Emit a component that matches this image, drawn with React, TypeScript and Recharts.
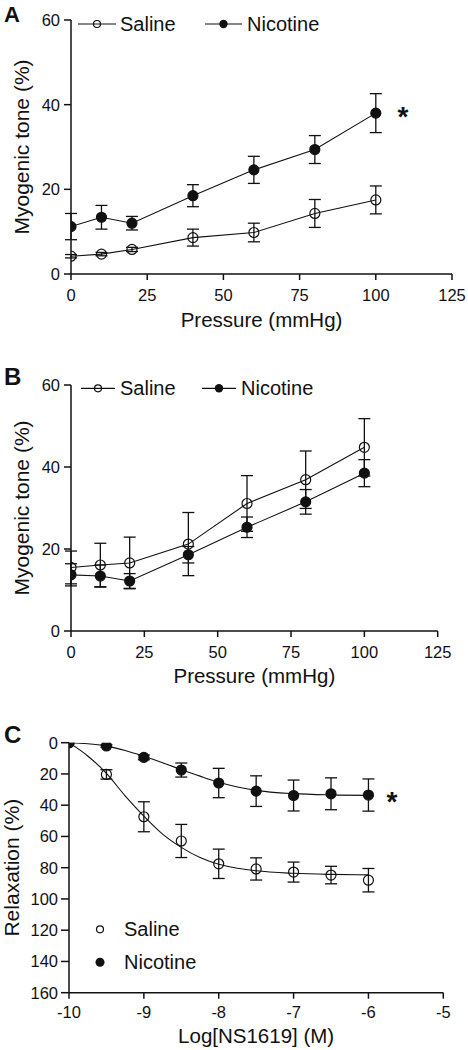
import React from 'react';
import { LineChart, ComposedChart, Line, XAxis, YAxis, ErrorBar } from 'recharts';

// ---------- Panel A & B: pressure series ----------
const pressure = [0, 10, 20, 40, 60, 80, 100];
const pressureTicks = [0, 25, 50, 75, 100, 125];
const toneTicks = [0, 20, 40, 60];

const aSaline = [4.2, 4.7, 5.8, 8.6, 9.8, 14.3, 17.5];
const aSalineErr = [0.4, 0.4, 0.5, 2.0, 2.2, 3.3, 3.3];
const aNicotine = [11.2, 13.4, 12.0, 18.5, 24.6, 29.4, 38.0];
const aNicotineErr = [3.1, 2.8, 1.6, 2.6, 3.2, 3.3, 4.6];

const bSaline = [15.5, 16.1, 16.6, 21.2, 31.1, 36.9, 44.8];
const bSalineErr = [4.0, 5.3, 6.3, 7.7, 6.8, 7.0, 7.0];
const bNicotine = [13.7, 13.4, 12.2, 18.6, 25.3, 31.5, 38.5];
const bNicotineErr = [2.7, 2.7, 1.8, 2.0, 2.5, 3.0, 3.3];

// ---------- Panel C: NS1619 concentration-response ----------
const concX = [-10, -9.5, -9, -8.5, -8, -7.5, -7, -6.5, -6];
const cSaline = [0, 20.3, 47.4, 62.9, 77.5, 80.8, 82.8, 84.7, 88.0];
const cSalineErr = [0, 3.0, 9.6, 10.6, 9.4, 7.1, 6.4, 5.6, 7.5];
const cNicotine = [0, 2.1, 9.4, 17.5, 25.8, 31.0, 33.8, 32.7, 33.5];
const cNicotineErr = [0, 0.8, 1.5, 4.5, 9.4, 9.8, 9.9, 10.2, 10.3];

// fitted curves
const curveX = [-10, -9.75, -9.5, -9.25, -9, -8.75, -8.5, -8.25, -8, -7.75, -7.5, -7, -6.5, -6];
const salineFit = [0, 8.5, 19.6, 34, 47, 58.5, 67, 73.5, 77.8, 80.3, 82, 83.6, 84.3, 84.6];
const nicotineFit = [0, 0.7, 2.2, 5, 8.7, 12.8, 17.2, 21.4, 25.3, 28.3, 30.5, 32.6, 33.4, 33.7];
const concTicks = [-10, -9, -8, -7, -6, -5];
const relaxTicks = [0, 20, 40, 60, 80, 100, 120, 140, 160];

const FONT = '"Liberation Sans", Arial, Helvetica, sans-serif';
const INK = '#111';

const rowsA = pressure.map((p, i) => ({ p, s: aSaline[i], se: aSalineErr[i], n: aNicotine[i], ne: aNicotineErr[i] }));
const rowsB = pressure.map((p, i) => ({ p, s: bSaline[i], se: bSalineErr[i], n: bNicotine[i], ne: bNicotineErr[i] }));
const curveRows = curveX.map((x, i) => ({ x, s: salineFit[i], n: nicotineFit[i] }));
const salinePts = concX.map((x, i) => ({ x, y: cSaline[i], e: cSalineErr[i] }));
const nicotinePts = concX.map((x, i) => ({ x, y: cNicotine[i], e: cNicotineErr[i] }));

const axisLine = { stroke: INK, strokeWidth: 1.5 };
const tickLine = { stroke: INK, strokeWidth: 1.5 };
const tickStyle = { fill: INK, fontSize: 16.5, fontFamily: FONT };
const openDot = { r: 5, fill: 'none', stroke: INK, strokeWidth: 1.2 };
const fillDot = { r: 5, fill: INK, stroke: INK, strokeWidth: 1.2 };

function PressurePanel({ rows, top, height, marginTop, marginRight, xAxisHeight, labelOffset }: any) {
  return (
    <div style={{ position: 'absolute', left: 0, top }}>
      <LineChart width={468} height={height} data={rows} margin={{ top: marginTop, right: marginRight, bottom: 0, left: 0 }}>
        <XAxis
          type="number"
          dataKey="p"
          domain={[0, 125]}
          ticks={pressureTicks}
          allowDataOverflow
          height={xAxisHeight}
          tickSize={6}
          tickMargin={9}
          axisLine={axisLine}
          tickLine={tickLine}
          tick={tickStyle}
          label={{ value: 'Pressure (mmHg)', position: 'insideBottom', offset: labelOffset, fill: INK, fontSize: 20.5, fontFamily: FONT }}
        />
        <YAxis
          type="number"
          domain={[0, 60]}
          ticks={toneTicks}
          allowDataOverflow
          width={71}
          tickSize={7}
          tickMargin={4}
          axisLine={axisLine}
          tickLine={tickLine}
          tick={tickStyle}
          label={{ value: 'Myogenic tone (%)', angle: -90, position: 'insideLeft', offset: 22, fill: INK, fontSize: 21, fontFamily: FONT, style: { textAnchor: 'middle' } }}
        />
        <Line dataKey="s" stroke={INK} strokeWidth={1.1} dot={openDot} activeDot={false} isAnimationActive={false}>
          <ErrorBar dataKey="se" direction="y" width={6} stroke={INK} strokeWidth={1.3} />
        </Line>
        <Line dataKey="n" stroke={INK} strokeWidth={1.1} dot={fillDot} activeDot={false} isAnimationActive={false}>
          <ErrorBar dataKey="ne" direction="y" width={6} stroke={INK} strokeWidth={1.3} />
        </Line>
      </LineChart>
    </div>
  );
}

function RelaxPanel() {
  return (
    <div style={{ position: 'absolute', left: 0, top: 700 }}>
      <ComposedChart width={468} height={350} margin={{ top: 42.7, right: 24.7, bottom: 0, left: 0 }}>
        <XAxis
          type="number"
          dataKey="x"
          domain={[-10, -5]}
          ticks={concTicks}
          allowDataOverflow
          height={57.3}
          tickSize={6}
          tickMargin={8}
          axisLine={axisLine}
          tickLine={tickLine}
          tick={tickStyle}
          label={{ value: 'Log[NS1619] (M)', position: 'insideBottom', offset: 7.3, fill: INK, fontSize: 20.5, fontFamily: FONT }}
        />
        <YAxis
          type="number"
          dataKey="y"
          reversed
          domain={[0, 160]}
          ticks={relaxTicks}
          allowDataOverflow
          interval={0}
          width={69}
          tickSize={8}
          tickMargin={3}
          axisLine={axisLine}
          tickLine={tickLine}
          tick={tickStyle}
          label={{ value: 'Relaxation (%)', angle: -90, position: 'insideLeft', offset: 12, fill: INK, fontSize: 21, fontFamily: FONT, style: { textAnchor: 'middle' } }}
        />
        <Line data={curveRows} dataKey="s" type="monotone" stroke={INK} strokeWidth={1.1} dot={false} activeDot={false} isAnimationActive={false} />
        <Line data={curveRows} dataKey="n" type="monotone" stroke={INK} strokeWidth={1.1} dot={false} activeDot={false} isAnimationActive={false} />
        <Line data={salinePts} dataKey="y" stroke="none" dot={openDot} activeDot={false} isAnimationActive={false}>
          <ErrorBar dataKey="e" direction="y" width={6} stroke={INK} strokeWidth={1.3} />
        </Line>
        <Line data={nicotinePts} dataKey="y" stroke="none" dot={fillDot} activeDot={false} isAnimationActive={false}>
          <ErrorBar dataKey="e" direction="y" width={6} stroke={INK} strokeWidth={1.3} />
        </Line>
      </ComposedChart>
    </div>
  );
}

function LineLegend({ y, textBaseline, sLine, nLine }: any) {
  return (
    <g>
      <line x1={sLine[0]} x2={sLine[1]} y1={y} y2={y} stroke={INK} strokeWidth={1.2} />
      <circle cx={(sLine[0] + sLine[1]) / 2} cy={y} r={3.5} fill="none" stroke={INK} strokeWidth={1.2} />
      <text x={120} y={textBaseline} fontSize={20} fill={INK} fontFamily={FONT}>Saline</text>
      <line x1={nLine[0]} x2={nLine[1]} y1={y} y2={y} stroke={INK} strokeWidth={1.2} />
      <circle cx={(nLine[0] + nLine[1]) / 2} cy={y} r={4.2} fill={INK} />
      <text x={nLine[1] + 5} y={textBaseline} fontSize={20} fill={INK} fontFamily={FONT}>Nicotine</text>
    </g>
  );
}

export default function App() {
  return (
    <div style={{ position: 'absolute', left: 0, top: 0, width: 468, height: 1050, background: '#fff', fontFamily: FONT, overflow: 'hidden' }}>
      <PressurePanel rows={rowsA} top={0} height={340} marginTop={20} marginRight={16} xAxisHeight={66} labelOffset={13} />
      <PressurePanel rows={rowsB} top={340} height={360} marginTop={45} marginRight={30.3} xAxisHeight={69} labelOffset={17} />
      <RelaxPanel />
      <svg width={468} height={1050} style={{ position: 'absolute', left: 0, top: 0, pointerEvents: 'none' }}>
        <text x={4} y={21.5} fontSize={22} fontWeight="bold" fill={INK} fontFamily={FONT}>A</text>
        <text x={4} y={384.5} fontSize={24} fontWeight="bold" fill={INK} fontFamily={FONT}>B</text>
        <text x={4} y={743} fontSize={24} fontWeight="bold" fill={INK} fontFamily={FONT}>C</text>
        <LineLegend y={24} textBaseline={30.7} sLine={[78, 116]} nLine={[205, 242]} />
        <LineLegend y={388.3} textBaseline={395} sLine={[81, 115]} nLine={[202, 236]} />
        <text x={403} y={126} fontSize={28} fontWeight="bold" textAnchor="middle" fill={INK} fontFamily={FONT}>*</text>
        <text x={392} y={811} fontSize={28} fontWeight="bold" textAnchor="middle" fill={INK} fontFamily={FONT}>*</text>
        <circle cx={100} cy={929.3} r={3.5} fill="none" stroke={INK} strokeWidth={1.2} />
        <text x={124} y={936} fontSize={20} fill={INK} fontFamily={FONT}>Saline</text>
        <circle cx={100} cy={962.3} r={4.5} fill={INK} />
        <text x={124} y={969.3} fontSize={20} fill={INK} fontFamily={FONT}>Nicotine</text>
      </svg>
    </div>
  );
}
